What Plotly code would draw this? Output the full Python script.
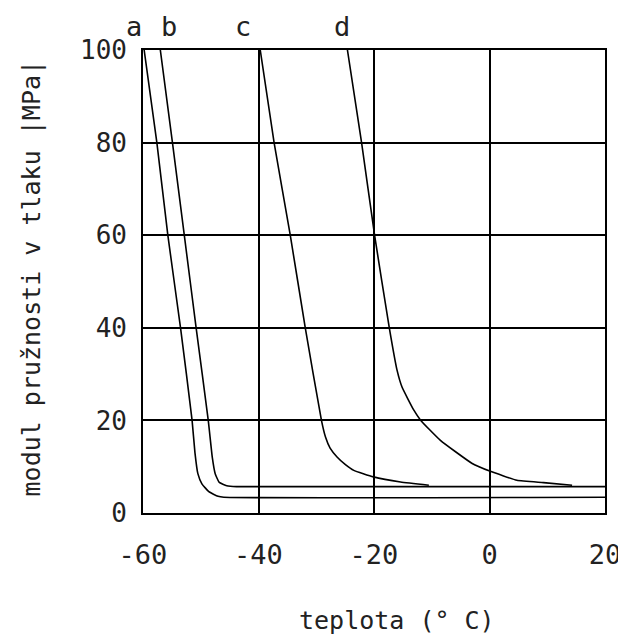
import plotly.graph_objects as go

# Curve a
a_x = [-59.8, -57.6, -55.7, -53.5, -51.5, -51.0, -50.5, -49.8, -48.6, -47.0, -46.0, 20]
a_y = [100, 80, 60, 40, 20, 13, 8.5, 6.3, 4.6, 3.6, 3.4, 3.4]
# Curve b
b_x = [-57.0, -54.9, -52.85, -50.8, -48.7, -48.0, -47.5, -46.8, -45.5, -43.8, 20]
b_y = [100, 80, 60, 40, 20, 12, 8.5, 6.6, 5.9, 5.7, 5.7]
# Curve c
c_x = [-39.7, -37.3, -34.5, -31.9, -29.1, -28.4, -27.6, -26.4, -25.0, -23.5, -20.1, -15.4, -10.5]
c_y = [100, 80, 60, 40, 20, 16.4, 14, 12.1, 10.5, 9.2, 7.8, 6.7, 6.0]
# Curve d
d_x = [-24.6, -22.15, -19.9, -17.35, -16.0, -15.15, -13.1, -11.9, -8.5, -3.0, 0.15, 4.75, 9.35, 14.3]
d_y = [100, 80, 60, 40, 30.8, 27.2, 22.2, 20, 15.7, 10.7, 9.0, 7.07, 6.57, 6.0]

curve_names = ["a", "b", "c", "d"]
label_x = [-61.6, -55.5, -42.6, -25.5]
label_y = [105, 105, 105, 105]

x_ticks = [-60, -40, -20, 0, 20]
y_ticks = [0, 20, 40, 60, 80, 100]
X_RANGE = [-60, 20]
Y_RANGE = [0, 100]

FONT = "DejaVu Sans Mono"
TXT = "#222222"

fig = go.Figure()
for xs, ys, nm in zip([a_x, b_x, c_x, d_x], [a_y, b_y, c_y, d_y], curve_names):
    fig.add_trace(go.Scatter(x=xs, y=ys, mode="lines", name=nm,
                             line=dict(color="black", width=1.6, shape="spline", smoothing=0.4),
                             showlegend=False))

xspan = X_RANGE[1] - X_RANGE[0]
yspan = Y_RANGE[1] - Y_RANGE[0]
for nm, lx, ly in zip(curve_names, label_x, label_y):
    fig.add_annotation(x=(lx - X_RANGE[0]) / xspan, y=(ly - Y_RANGE[0]) / yspan, text=nm,
                       showarrow=False, xref="paper", yref="paper",
                       xanchor="center", yanchor="middle",
                       font=dict(family=FONT, size=27, color=TXT))

fig.add_annotation(x=0.55, y=-0.232, xref="paper", yref="paper", text="teplota (° C)",
                   showarrow=False, xanchor="center", yanchor="middle",
                   font=dict(family=FONT, size=25, color=TXT))
fig.add_annotation(x=-0.242, y=0.507, xref="paper", yref="paper",
                   text="modul pružnosti v tlaku |MPa|", textangle=-90,
                   showarrow=False, xanchor="center", yanchor="middle",
                   font=dict(family=FONT, size=25, color=TXT))

fig.update_xaxes(range=X_RANGE, tickvals=x_ticks, ticktext=[str(v) for v in x_ticks],
                 showgrid=True, gridcolor="black", gridwidth=1.6,
                 showline=True, linecolor="black", linewidth=1.6, mirror=True,
                 zeroline=False, ticks="", ticklabelstandoff=17, automargin=False,
                 tickfont=dict(family=FONT, size=27, color=TXT))
fig.update_yaxes(range=Y_RANGE, tickvals=y_ticks, ticktext=[str(v) for v in y_ticks],
                 showgrid=True, gridcolor="black", gridwidth=1.6,
                 showline=True, linecolor="black", linewidth=1.6, mirror=True,
                 zeroline=False, ticks="", ticklabelstandoff=9, automargin=False,
                 tickfont=dict(family=FONT, size=26, color=TXT))

# the page body adds an 8px offset, so margins are compensated
fig.update_layout(width=626, height=642,
                  margin=dict(l=135, r=29, t=42, b=137, autoexpand=False),
                  plot_bgcolor="white", paper_bgcolor="white")

fig.write_html("out.html")
